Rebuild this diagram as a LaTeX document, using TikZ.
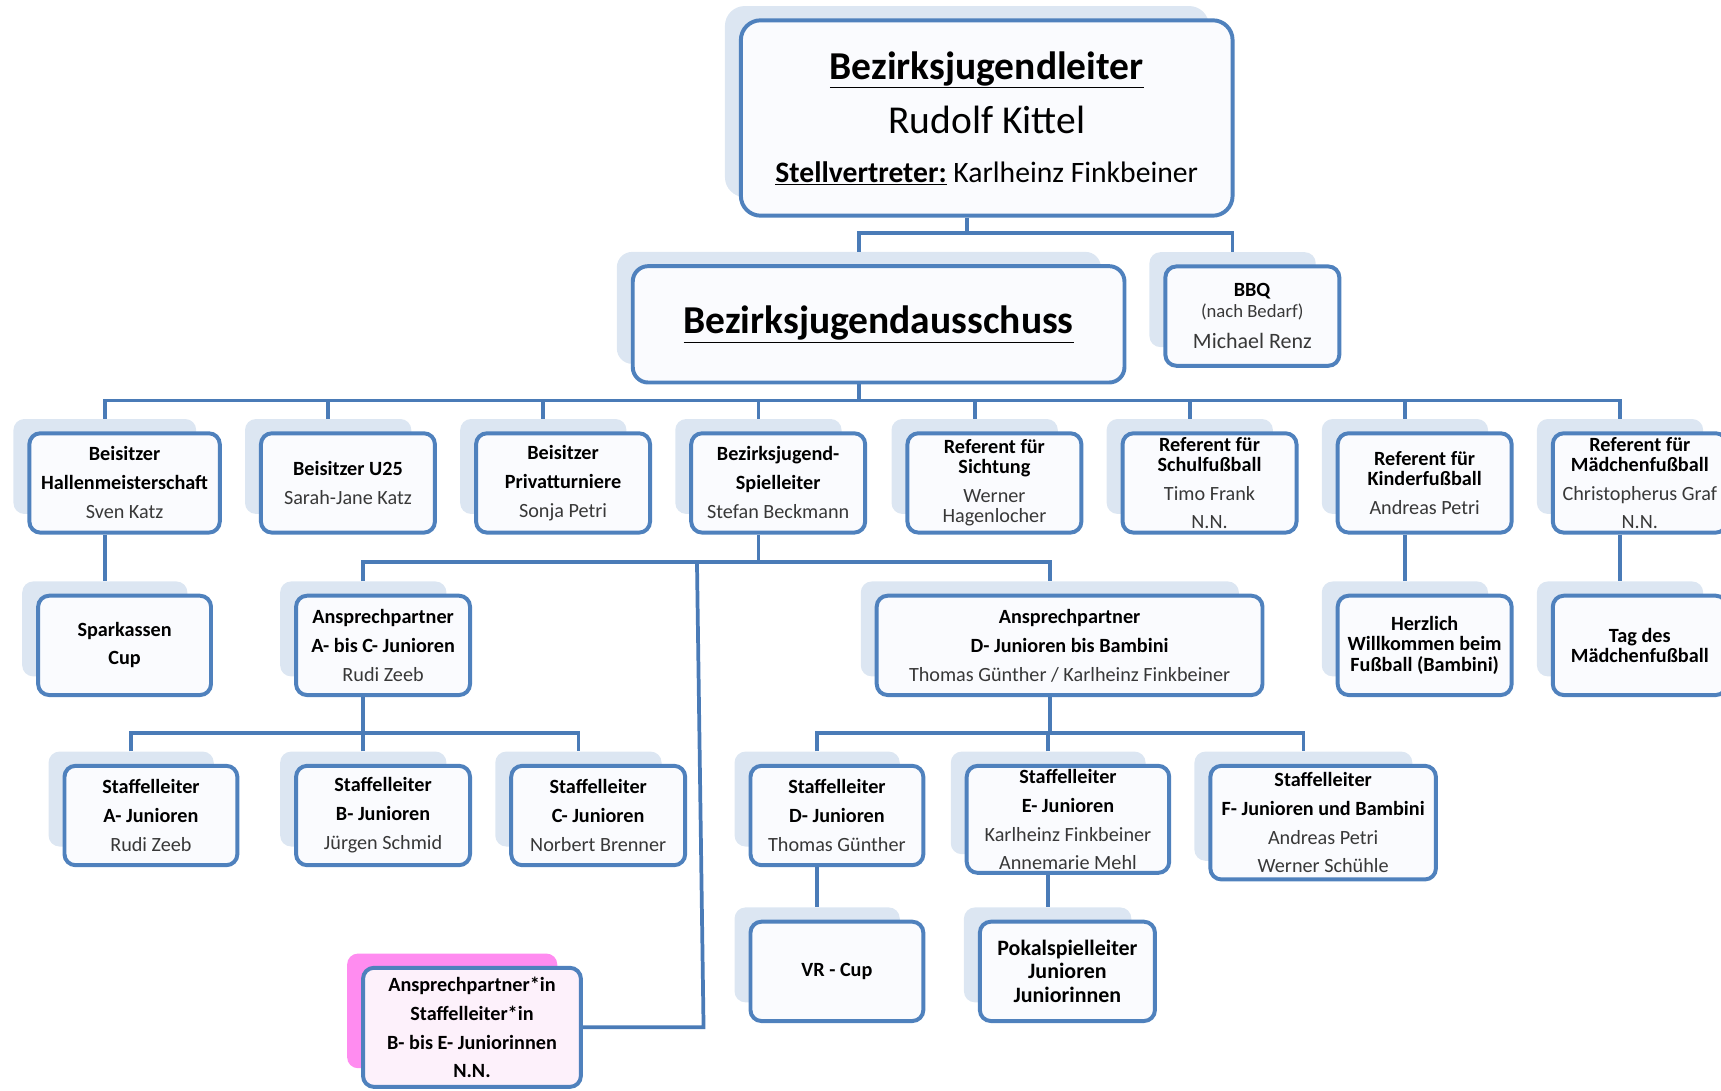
\documentclass[tikz,border=0pt]{standalone}
\usepackage{fontspec}
\setmainfont{Carlito}
\usetikzlibrary{backgrounds}
\definecolor{bordc}{HTML}{4F81BD}
\definecolor{connc}{HTML}{4A7BB7}
\definecolor{shc}{HTML}{DCE6F2}
\definecolor{boxf}{HTML}{FAFBFE}
\definecolor{pinks}{HTML}{FF8CF0}
\definecolor{pinkf}{HTML}{FDF1FB}
\definecolor{namec}{HTML}{383838}
\newcommand\pnm[1]{{\color{namec}#1}}
\tikzset{
  orgbox/.style={draw=bordc, line width=3.6pt, rounded corners=10pt, fill=boxf,
    align=center, inner sep=0pt, text=black, font=\fontsize{18.4}{18.4}\selectfont},
  shbox/.style={fill=shc, rounded corners=10pt, inner sep=0pt},
  conn/.style={draw=connc, line width=3.4pt}
}
% name, x, y, w, h, main options, shadow options, text
\newcommand\OB[8]{%
  \node[orgbox, minimum width=#4, minimum height=#5, #6] (#1) at (#2,#3) {#8};
  \pgfmathsetmacro\shw{#4-7}\pgfmathsetmacro\shh{#5-4}%
  \begin{pgfonlayer}{background}
    \node[shbox, minimum width=\shw, minimum height=\shh, #7] (s#1) at ([shift={(-18,-15)}]#1.center) {};
  \end{pgfonlayer}}
\begin{document}
\begin{tikzpicture}[x=1pt, y=-1pt]
\useasboundingbox (0,0) rectangle (1568,994);
% level 0
\OB{n0}{899}{107.5}{448}{178}{rounded corners=18pt, font=\fontsize{36}{50}\selectfont}{rounded corners=18pt}{%
  \textbf{\underline{Bezirksjugendleiter}}\\Rudolf Kittel\\[-6pt]{\fontsize{27}{27}\selectfont\textbf{\underline{Stellvertreter:}} Karlheinz Finkbeiner}}
% level 1
\OB{n1}{800.5}{295.5}{448}{106}{rounded corners=14pt, font=\fontsize{36}{36}\selectfont}{rounded corners=14pt}{\textbf{\underline{Bezirksjugendausschuss}}}
\OB{bbq}{1141}{288}{158.5}{90.5}{}{}{\textbf{BBQ}\\{\fontsize{17}{17}\selectfont\pnm{(nach Bedarf)}}\\[10pt]{\fontsize{20}{20}\selectfont\pnm{Michael Renz}}}
% level 2
\OB{n21}{113.5}{440}{173.5}{90.5}{}{}{\textbf{Beisitzer}\\[8pt]\textbf{Hallenmeisterschaft}\\[8pt]\pnm{Sven Katz}}
\OB{n22}{317}{440}{158.5}{90.5}{}{}{\textbf{Beisitzer U25}\\[8pt]\pnm{Sarah-Jane Katz}}
\OB{n23}{513}{440}{158.5}{90.5}{}{}{\textbf{Beisitzer}\\[8pt]\textbf{Privatturniere}\\[8pt]\pnm{Sonja Petri}}
\OB{n24}{709}{440}{158.5}{90.5}{}{}{\textbf{Bezirksjugend-}\\[8pt]\textbf{Spielleiter}\\[8pt]\pnm{Stefan Beckmann}}
\OB{n25}{906}{440}{158.5}{90.5}{}{}{\textbf{Referent für}\\\textbf{Sichtung}\\[8pt]\pnm{Werner}\\\pnm{Hagenlocher}}
\OB{n26}{1102}{440}{158.5}{90.5}{}{}{\textbf{Referent für}\\\textbf{Schulfußball}\\[8pt]\pnm{Timo Frank}\\[7pt]\pnm{N.N.}}
\OB{n27}{1298}{440}{158.5}{90.5}{}{}{\textbf{Referent für}\\\textbf{Kinderfußball}\\[8pt]\pnm{Andreas Petri}}
\OB{n28}{1494}{440}{158.5}{90.5}{}{}{\textbf{Referent für}\\\textbf{Mädchenfußball}\\[8pt]\pnm{Christopherus Graf}\\[7pt]\pnm{N.N.}}
% level 3
\OB{n31}{113.5}{588}{157.5}{90.5}{}{}{\textbf{Sparkassen}\\[7pt]\textbf{Cup}}
\OB{n32}{349}{588}{158.5}{90.5}{}{}{\textbf{Ansprechpartner}\\[8pt]\textbf{A- bis C- Junioren}\\[8pt]\pnm{Rudi Zeeb}}
\OB{n33}{974.5}{588}{351.5}{90.5}{}{}{\textbf{Ansprechpartner}\\[8pt]\textbf{D- Junioren bis Bambini}\\[8pt]\pnm{Thomas Günther / Karlheinz Finkbeiner}}
\OB{n34}{1298}{588}{158.5}{90.5}{}{}{\textbf{Herzlich}\\\textbf{Willkommen beim}\\\textbf{Fußball (Bambini)}}
\OB{n35}{1494}{588}{158.5}{90.5}{}{}{\textbf{Tag des}\\\textbf{Mädchenfußball}}
% level 4
\OB{n41}{137.5}{743}{157.5}{90.5}{}{}{\textbf{Staffelleiter}\\[8pt]\textbf{A- Junioren}\\[8pt]\pnm{Rudi Zeeb}}
\OB{n42}{349}{743}{158.5}{90.5}{}{}{\textbf{Staffelleiter}\\[8pt]\textbf{B- Junioren}\\[8pt]\pnm{Jürgen Schmid}}
\OB{n43}{545}{743}{158.5}{90.5}{}{}{\textbf{Staffelleiter}\\[8pt]\textbf{C- Junioren}\\[8pt]\pnm{Norbert Brenner}}
\OB{n44}{762.5}{743}{157.5}{90.5}{}{}{\textbf{Staffelleiter}\\[8pt]\textbf{D- Junioren}\\[8pt]\pnm{Thomas Günther}}
\OB{n45}{973}{746.5}{184.5}{97.5}{}{}{\textbf{Staffelleiter}\\[8pt]\textbf{E- Junioren}\\[8pt]\pnm{Karlheinz Finkbeiner}\\[7pt]\pnm{Annemarie Mehl}}
\OB{n46}{1205.5}{749.5}{205.5}{103.5}{}{}{\textbf{Staffelleiter}\\[8pt]\textbf{F- Junioren und Bambini}\\[8pt]\pnm{Andreas Petri}\\[7pt]\pnm{Werner Schühle}}
% level 5
\OB{n51}{762.5}{885}{157.5}{90.5}{}{}{\textbf{VR - Cup}}
\OB{n52}{972.5}{885}{159.5}{90.5}{font=\fontsize{20}{21}\selectfont}{}{\textbf{Pokalspielleiter}\\\textbf{Junioren}\\\textbf{Juniorinnen}}
\OB{pk}{430}{936}{198.5}{108.5}{fill=pinkf}{fill=pinks}{\textbf{Ansprechpartner*in}\\[8pt]\textbf{Staffelleiter*in}\\[8pt]\textbf{B- bis E- Juniorinnen}\\[7pt]\textbf{N.N.}}
% connectors
\begin{pgfonlayer}{background}
\coordinate (y0) at (0,212);
\coordinate (y1) at (0,365);
\coordinate (y2) at (0,512);
\coordinate (y3) at (0,668);
\coordinate (pt) at (635,512);
\coordinate (pb) at (641,936);
\draw[conn] (n0.south -| sn0.center) -- (sn0.center |- y0);
\draw[conn] (sn1.north) |- (y0 -| sbbq.center) -- (sbbq.north);
\draw[conn] (n1.south -| sn1.center) -- (sn1.center |- y1);
\draw[conn] (sn21.north) |- (y1 -| sn28.center) -- (sn28.north);
\foreach \k in {22,...,27} {\draw[conn] (sn\k.north) -- (sn\k.center |- y1);}
\draw[conn] (n21.south -| sn31.center) -- (sn31.north);
\draw[conn] (n24.south -| sn24.center) -- (sn24.center |- y2);
\draw[conn] (sn32.north) |- (y2 -| sn33.center) -- (sn33.north);
\draw[conn] (pk.east) -- (pb) -- (pt);
\draw[conn] (n27.south -| sn34.center) -- (sn34.north);
\draw[conn] (n28.south -| sn35.center) -- (sn35.north);
\draw[conn] (n32.south -| sn32.center) -- (sn32.center |- y3);
\draw[conn] (sn41.north) |- (y3 -| sn43.center) -- (sn43.north);
\draw[conn] (sn42.north) -- (sn42.center |- y3);
\draw[conn] (n33.south -| sn33.center) -- (sn33.center |- y3);
\draw[conn] (sn44.north) |- (y3 -| sn46.center) -- (sn46.north);
\draw[conn] (sn45.north) -- (sn45.center |- y3);
\draw[conn] (n44.south -| sn51.center) -- (sn51.north);
\draw[conn] (n45.south -| sn52.center) -- (sn52.north);
\end{pgfonlayer}
\end{tikzpicture}
\end{document}
